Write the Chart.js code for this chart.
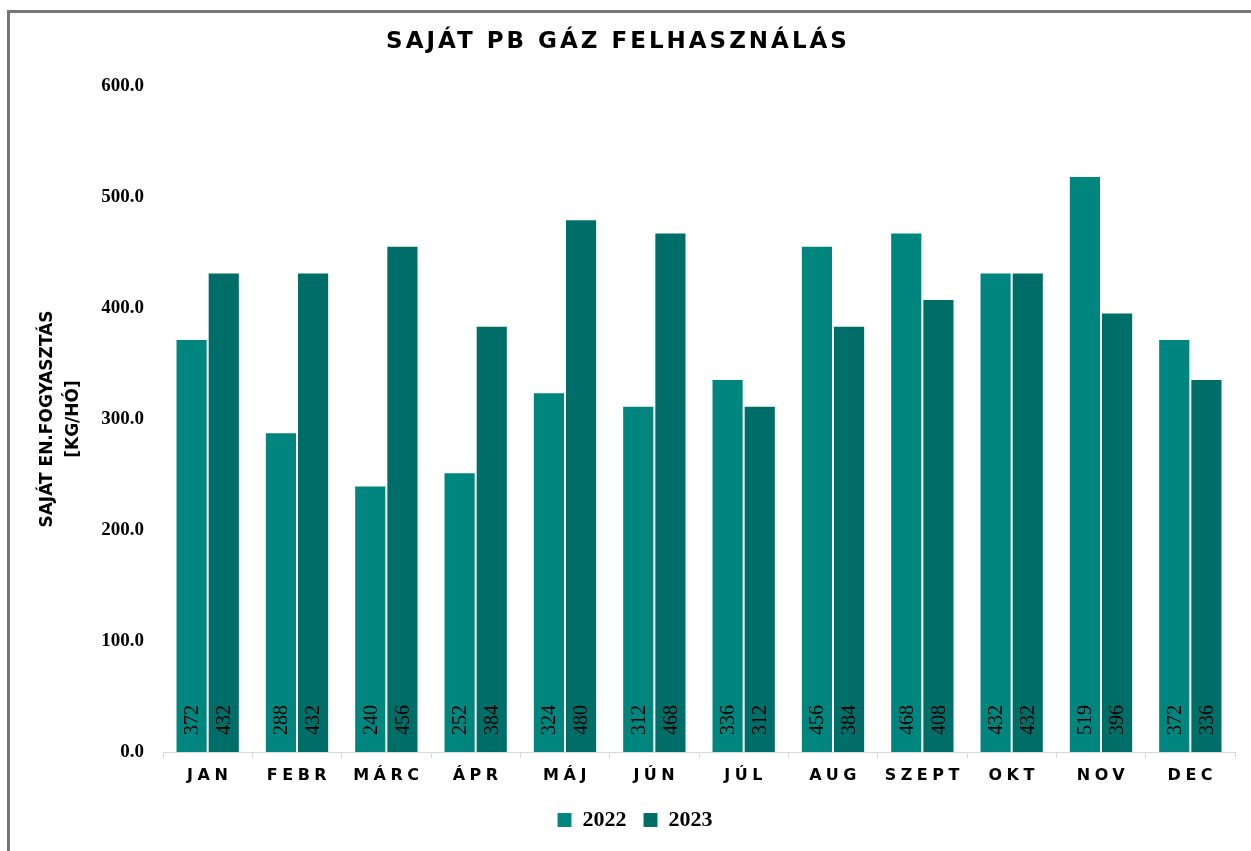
<!DOCTYPE html>
<html>
<head>
<meta charset="utf-8">
<script src="https://cdn.jsdelivr.net/npm/chart.js@4.4.0/dist/chart.umd.min.js"></script>
<style>
html, body { margin: 0; padding: 0; background: #fff; overflow: hidden; }
#keret { position: absolute; left: 7px; top: 10px; width: 1400px; height: 1000px; border-left: 3px solid #767676; border-top: 3px solid #767676; }
#doboz { position: absolute; left: 0; top: 0; width: 1251px; height: 851px; }
</style>
</head>
<body>
<div id="keret"></div>
<div id="doboz"><canvas id="gazChart"></canvas></div>
<script>
const honapok = ['JAN', 'FEBR', 'MÁRC', 'ÁPR', 'MÁJ', 'JÚN', 'JÚL', 'AUG', 'SZEPT', 'OKT', 'NOV', 'DEC'];
const ertekek2022 = [372, 288, 240, 252, 324, 312, 336, 456, 468, 432, 519, 372];
const ertekek2023 = [432, 432, 456, 384, 480, 468, 312, 384, 408, 432, 396, 336];
const evek = ['2022', '2023'];
const yTickek = [0, 100, 200, 300, 400, 500, 600];

const cimSzoveg = 'SAJÁT PB GÁZ FELHASZNÁLÁS';
const sansFont = '"DejaVu Sans", sans-serif';
const serifFont = '"Liberation Serif", serif';

// cím és x feliratok betűközzel
const feliratPlugin = {
    id: 'feliratok',
    afterDraw(chart) {
        const ctx = chart.ctx;
        ctx.save();
        ctx.fillStyle = '#000';
        ctx.textAlign = 'center';
        ctx.textBaseline = 'middle';
        ctx.font = 'bold 23px ' + sansFont;
        ctx.letterSpacing = '3px';
        ctx.fillText(cimSzoveg, 618, 42);

        const x = chart.scales.x;
        ctx.font = 'bold 16px ' + sansFont;
        ctx.letterSpacing = '4.5px';
        honapok.forEach((h, i) => {
            ctx.fillText(h, x.getPixelForTick(i) + 2, 776);
        });
        ctx.restore();
    }
};

// oszlopcímkék függőlegesen, az oszlop aljánál
const cimkePlugin = {
    id: 'cimkek',
    afterDatasetsDraw(chart) {
        const ctx = chart.ctx;
        ctx.save();
        ctx.fillStyle = '#000';
        ctx.font = '20px ' + serifFont;
        chart.data.datasets.forEach((ds, i) => {
            const meta = chart.getDatasetMeta(i);
            meta.data.forEach((bar, j) => {
                ctx.save();
                ctx.translate(bar.x, bar.base - 17);
                ctx.rotate(-Math.PI / 2);
                ctx.textAlign = 'left';
                ctx.textBaseline = 'middle';
                ctx.fillText(String(ds.data[j]), 0, 1);
                ctx.restore();
            });
        });
        ctx.restore();
    }
};

const ctx = document.getElementById('gazChart').getContext('2d');
new Chart(ctx, {
    type: 'bar',
    data: {
        labels: honapok,
        datasets: [{
            label: evek[0],
            data: ertekek2022,
            backgroundColor: '#00867e',
            borderColor: 'rgba(255, 255, 255, 0.08)',
            borderWidth: 1
        }, {
            label: evek[1],
            data: ertekek2023,
            backgroundColor: '#006e68',
            borderColor: 'rgba(255, 255, 255, 0.08)',
            borderWidth: 1
        }]
    },
    options: {
        responsive: true,
        maintainAspectRatio: false,
        animation: false,
        datasets: {
            bar: { categoryPercentage: 0.72, barPercentage: 1.0 }
        },
        layout: { padding: { top: 86, right: 16, bottom: 10, left: 35 } },
        plugins: {
            title: { display: false },
            tooltip: { enabled: false },
            legend: {
                position: 'bottom',
                labels: {
                    boxWidth: 14,
                    boxHeight: 14,
                    padding: 17,
                    color: '#000',
                    font: { family: serifFont, size: 22, weight: 'bold' }
                }
            }
        },
        scales: {
            x: {
                grid: {
                    display: true,
                    drawOnChartArea: false,
                    drawTicks: true,
                    tickLength: 6,
                    color: '#d9d9d9',
                    offset: true
                },
                border: { display: true, color: '#d9d9d9', width: 1 },
                ticks: {
                    color: 'transparent',
                    padding: 8,
                    font: { family: sansFont, size: 15, weight: 'bold' }
                }
            },
            y: {
                min: 0,
                max: 600,
                afterBuildTicks(axis) {
                    axis.ticks = yTickek.map(v => ({ value: v }));
                },
                afterFit(axis) {
                    axis.width = 128;
                },
                grid: { display: false },
                border: { display: false },
                ticks: {
                    color: '#000',
                    padding: 11,
                    font: { family: serifFont, size: 19, weight: 'bold' },
                    callback: v => Number(v).toFixed(1)
                },
                title: {
                    display: true,
                    text: ['SAJÁT EN.FOGYASZTÁS', '[KG/HÓ]'],
                    color: '#000',
                    padding: { top: 0, bottom: 0 },
                    font: { family: sansFont, size: 17, weight: 'bold', lineHeight: 1.53 }
                }
            }
        }
    },
    plugins: [feliratPlugin, cimkePlugin]
});
</script>
</body>
</html>
